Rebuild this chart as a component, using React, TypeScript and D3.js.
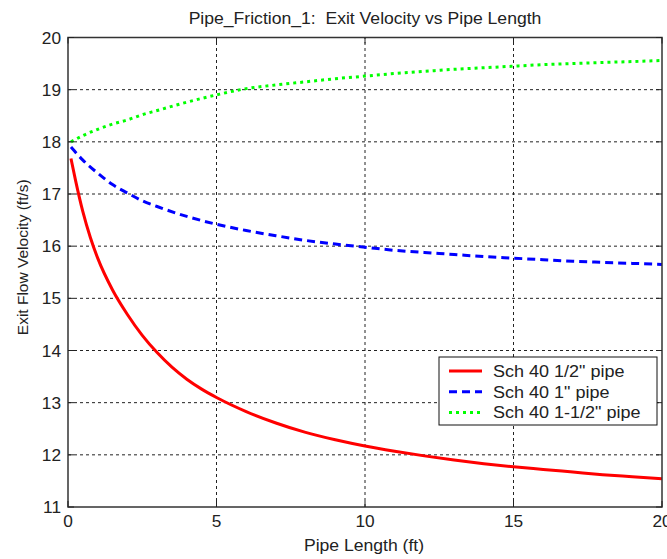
import React, { useEffect, useRef } from 'react';
import * as d3 from 'd3';

const lengths = [0.1, 0.25, 0.5, 0.75, 1, 1.5, 2, 2.5, 3, 3.5, 4, 4.5, 5, 6, 7, 8, 9, 10, 11, 12, 13, 14, 15, 16, 17, 18, 19, 20];
const halfInch = [17.68, 17.27, 16.66, 16.17, 15.77, 15.16, 14.69, 14.29, 13.96, 13.68, 13.45, 13.26, 13.1, 12.83, 12.61, 12.43, 12.29, 12.17, 12.07, 11.98, 11.9, 11.83, 11.77, 11.72, 11.67, 11.62, 11.58, 11.54];

const lengths2 = [0.1, 0.5, 1, 1.5, 2, 2.5, 3, 4, 5, 6, 7, 8, 9, 10, 11, 12, 13, 14, 15, 16, 17, 18, 19, 20];
const oneInch = [17.9, 17.65, 17.4, 17.18, 17.02, 16.87, 16.76, 16.57, 16.42, 16.3, 16.2, 16.11, 16.04, 15.98, 15.92, 15.88, 15.84, 15.8, 15.77, 15.74, 15.71, 15.69, 15.67, 15.65];
const oneHalfInch = [18.0, 18.12, 18.24, 18.34, 18.42, 18.52, 18.6, 18.76, 18.9, 19.02, 19.09, 19.15, 19.21, 19.26, 19.31, 19.35, 19.39, 19.42, 19.45, 19.48, 19.5, 19.52, 19.54, 19.56];

const xTicks = [0, 5, 10, 15, 20];
const yTicks = [11, 12, 13, 14, 15, 16, 17, 18, 19, 20];

const seriesNames = ['Sch 40 1/2" pipe', 'Sch 40 1" pipe', 'Sch 40 1-1/2" pipe'];

const App = () => {
  const svgRef = useRef<SVGSVGElement>(null);

  useEffect(() => {
    const width = 667;
    const height = 559;
    const margin = { top: 37.5, right: 5, bottom: 52, left: 68 };
    const font = '"Liberation Sans", Arial, sans-serif';

    const svg = d3.select(svgRef.current);
    svg.selectAll('*').remove();
    svg.attr('width', width).attr('height', height);

    const x = d3.scaleLinear().domain([0, 20]).range([margin.left, width - margin.right]);
    const y = d3.scaleLinear().domain([11, 20]).range([height - margin.bottom, margin.top]);

    // text helper: the reference's labels are a little wider than they are tall
    const label = (tx: number, ty: number, str: string | number, size: number, anchor: string, sx = 1.1) =>
      svg.append('text')
        .attr('transform', `translate(${tx},${ty}) scale(${sx},1)`)
        .attr('text-anchor', anchor)
        .attr('font-family', font).attr('font-size', size).attr('fill', '#222')
        .style('white-space', 'pre')
        .text(str);

    svg.append('rect').attr('width', width).attr('height', height).attr('fill', '#fff');

    // grid
    const grid = svg.append('g').attr('stroke', '#222').attr('stroke-width', 1).attr('stroke-dasharray', '3,3');
    xTicks.slice(1, -1).forEach(t => {
      grid.append('line').attr('x1', x(t)).attr('x2', x(t)).attr('y1', y(11)).attr('y2', y(20));
    });
    yTicks.slice(1, -1).forEach(t => {
      grid.append('line').attr('x1', x(0)).attr('x2', x(20)).attr('y1', y(t)).attr('y2', y(t));
    });

    // series
    const series = [
      { xs: lengths, ys: halfInch, color: '#ff0000', dash: null },
      { xs: lengths2, ys: oneInch, color: '#0000ff', dash: '8,5' },
      { xs: lengths2, ys: oneHalfInch, color: '#00ff00', dash: '3,4' }
    ];
    const line = d3.line<[number, number]>()
      .x(d => x(d[0]))
      .y(d => y(d[1]))
      .curve(d3.curveMonotoneX);

    series.forEach(s => {
      const pts = s.xs.map((v, i) => [v, s.ys[i]] as [number, number]);
      const p = svg.append('path')
        .attr('d', line(pts))
        .attr('fill', 'none')
        .attr('stroke', s.color)
        .attr('stroke-width', 3);
      if (s.dash) p.attr('stroke-dasharray', s.dash);
    });

    // axes box
    svg.append('rect')
      .attr('x', x(0)).attr('y', y(20))
      .attr('width', x(20) - x(0)).attr('height', y(11) - y(20))
      .attr('fill', 'none').attr('stroke', '#333').attr('stroke-width', 1.5);

    // tick marks (inward, both sides)
    const ticks = svg.append('g').attr('stroke', '#222').attr('stroke-width', 1);
    xTicks.forEach(t => {
      ticks.append('line').attr('x1', x(t)).attr('x2', x(t)).attr('y1', y(11)).attr('y2', y(11) - 6);
      ticks.append('line').attr('x1', x(t)).attr('x2', x(t)).attr('y1', y(20)).attr('y2', y(20) + 6);
    });
    yTicks.forEach(t => {
      ticks.append('line').attr('x1', x(0)).attr('x2', x(0) + 6).attr('y1', y(t)).attr('y2', y(t));
      ticks.append('line').attr('x1', x(20)).attr('x2', x(20) - 6).attr('y1', y(t)).attr('y2', y(t));
    });

    // tick labels
    xTicks.forEach(t => label(x(t), y(11) + 20, t, 16, 'middle', 1.08));
    yTicks.forEach(t => label(x(0) - 7, y(t) + 6, t, 16, 'end', 1.08));

    // title and axis labels
    label(365, 24, 'Pipe_Friction_1:  Exit Velocity vs Pipe Length', 16, 'middle', 1.1);
    label(364, 551, 'Pipe Length (ft)', 16, 'middle', 1.1);
    svg.append('text')
      .attr('transform', `translate(28, ${(y(11) + y(20)) / 2 - 15}) rotate(-90)`)
      .attr('text-anchor', 'middle')
      .attr('font-family', font).attr('font-size', 15.5).attr('fill', '#222')
      .text('Exit Flow Velocity (ft/s)');

    // legend
    svg.append('rect')
      .attr('x', 439).attr('y', 357)
      .attr('width', 218).attr('height', 68)
      .attr('fill', '#fff').attr('stroke', '#111').attr('stroke-width', 1);
    series.forEach((s, i) => {
      const ly = 371 + i * 20.7;
      const l = svg.append('line')
        .attr('x1', 449).attr('x2', 482).attr('y1', ly).attr('y2', ly)
        .attr('stroke', s.color).attr('stroke-width', 3);
      if (s.dash) l.attr('stroke-dasharray', s.dash);
      label(493, ly + 6, seriesNames[i], 17, 'start', 1.06);
    });
  }, []);

  return (
    <div>
      <svg ref={svgRef} style={{ position: 'absolute', left: 0, top: 0, display: 'block' }}></svg>
    </div>
  );
};

export default App;
